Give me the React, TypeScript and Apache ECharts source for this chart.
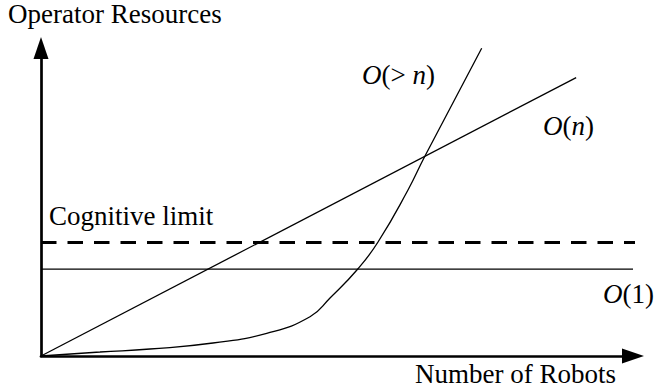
import React, { useEffect, useRef } from "react";
import * as echarts from "echarts";

// Axis ranges (abstract units)
const xRange = [0, 100];
const yRange = [0, 100];

// O(1): constant operator resources
const constX = [0, 100];
const constY = [28.2, 28.2];

// Cognitive limit (dashed)
const limitX = [0, 100.8];
const limitY = [36.85, 36.85];

// O(n): linear growth
const linX = [0, 90.4];
const linY = [0, 90.4];

// O(>n): super-linear growth
const supX = [0, 9.97, 18.41, 29.05, 38.13, 45.44, 48.82, 53.55, 56.93, 61.99, 64.86, 74.44];
const supY = [0, 1.3, 2.27, 4.22, 7.37, 12.76, 18.83, 28.34, 37.01, 53.9, 64.94, 99.9];

const yTitle = "Operator Resources";
const xTitle = "Number of Robots";
const limitLabel = "Cognitive limit";

// Math labels as [text, italic] pieces
const labelConst: [string, boolean][] = [["O", true], ["(1)", false]];
const labelLinear: [string, boolean][] = [["O", true], ["(", false], ["n", true], [")", false]];
const labelSuper: [string, boolean][] = [["O", true], ["(> ", false], ["n", true], [")", false]];

const FONT = "27px 'Liberation Serif'";
const IFONT = "italic 27px 'Liberation Serif'";

const zip = (xs: number[], ys: number[]) => xs.map((x, i) => [x, ys[i]]);

const plainText = (text: string, x: number, y: number, align: string) => ({
  type: "text",
  x,
  y,
  style: { text, font: FONT, fill: "#000", align, verticalAlign: "middle" },
});

function mathLabel(parts: [string, boolean][], x: number, y: number, align: "left" | "right") {
  const ctx = document.createElement("canvas").getContext("2d");
  const widths = parts.map(([t, it]) => {
    if (!ctx) return t.length * 12;
    ctx.font = it ? IFONT : FONT;
    return ctx.measureText(t).width;
  });
  const total = widths.reduce((a, b) => a + b, 0);
  let cx = align === "right" ? x - total : x;
  return parts.map(([t, it], i) => {
    const el = {
      type: "text",
      x: cx,
      y,
      style: { text: t, font: it ? IFONT : FONT, fill: "#000", align: "left", verticalAlign: "middle" },
    };
    cx += widths[i];
    return el;
  });
}

export default function App() {
  const ref = useRef<HTMLDivElement>(null);
  useEffect(() => {
    if (!ref.current) return;
    const chart = echarts.init(ref.current, undefined, { renderer: "svg" });
    const axisCommon = {
      type: "value",
      splitLine: { show: false },
      axisTick: { show: false },
      axisLabel: { show: false },
      axisLine: {
        show: true,
        symbol: ["none", "triangle"],
        symbolSize: [15, 22],
        lineStyle: { color: "#000", width: 2.7 },
      },
    };
    const thin = { color: "#000", width: 1.3 };
    chart.setOption({
      animation: false,
      backgroundColor: "#fff",
      grid: { left: 41, right: 21, top: 48, bottom: 34 },
      xAxis: { ...axisCommon, min: xRange[0], max: xRange[1] },
      yAxis: { ...axisCommon, min: yRange[0], max: yRange[1] },
      series: [
        {
          type: "line",
          name: "O(1)",
          data: zip(constX, constY),
          symbol: "none",
          lineStyle: thin,
          clip: false,
        },
        {
          type: "line",
          name: "Cognitive limit",
          data: zip(limitX, limitY),
          symbol: "none",
          lineStyle: { color: "#000", width: 3, type: [15.5, 11] },
          clip: false,
        },
        {
          type: "line",
          name: "O(n)",
          data: zip(linX, linY),
          symbol: "none",
          lineStyle: thin,
          clip: false,
        },
        {
          type: "line",
          name: "O(>n)",
          data: zip(supX, supY),
          symbol: "none",
          smooth: true,
          lineStyle: thin,
          clip: false,
        },
      ],
      graphic: [
        plainText(yTitle, 8, 14, "left"),
        plainText(xTitle, 616, 374, "right"),
        plainText(limitLabel, 49, 216, "left"),
        ...mathLabel(labelConst, 654, 294, "right"),
        ...mathLabel(labelLinear, 543, 126, "left"),
        ...mathLabel(labelSuper, 362, 75, "left"),
      ],
    });
    return () => chart.dispose();
  }, []);
  return (
    <div
      ref={ref}
      style={{ position: "fixed", left: 0, top: 0, width: 654, height: 390, background: "#fff" }}
    />
  );
}
